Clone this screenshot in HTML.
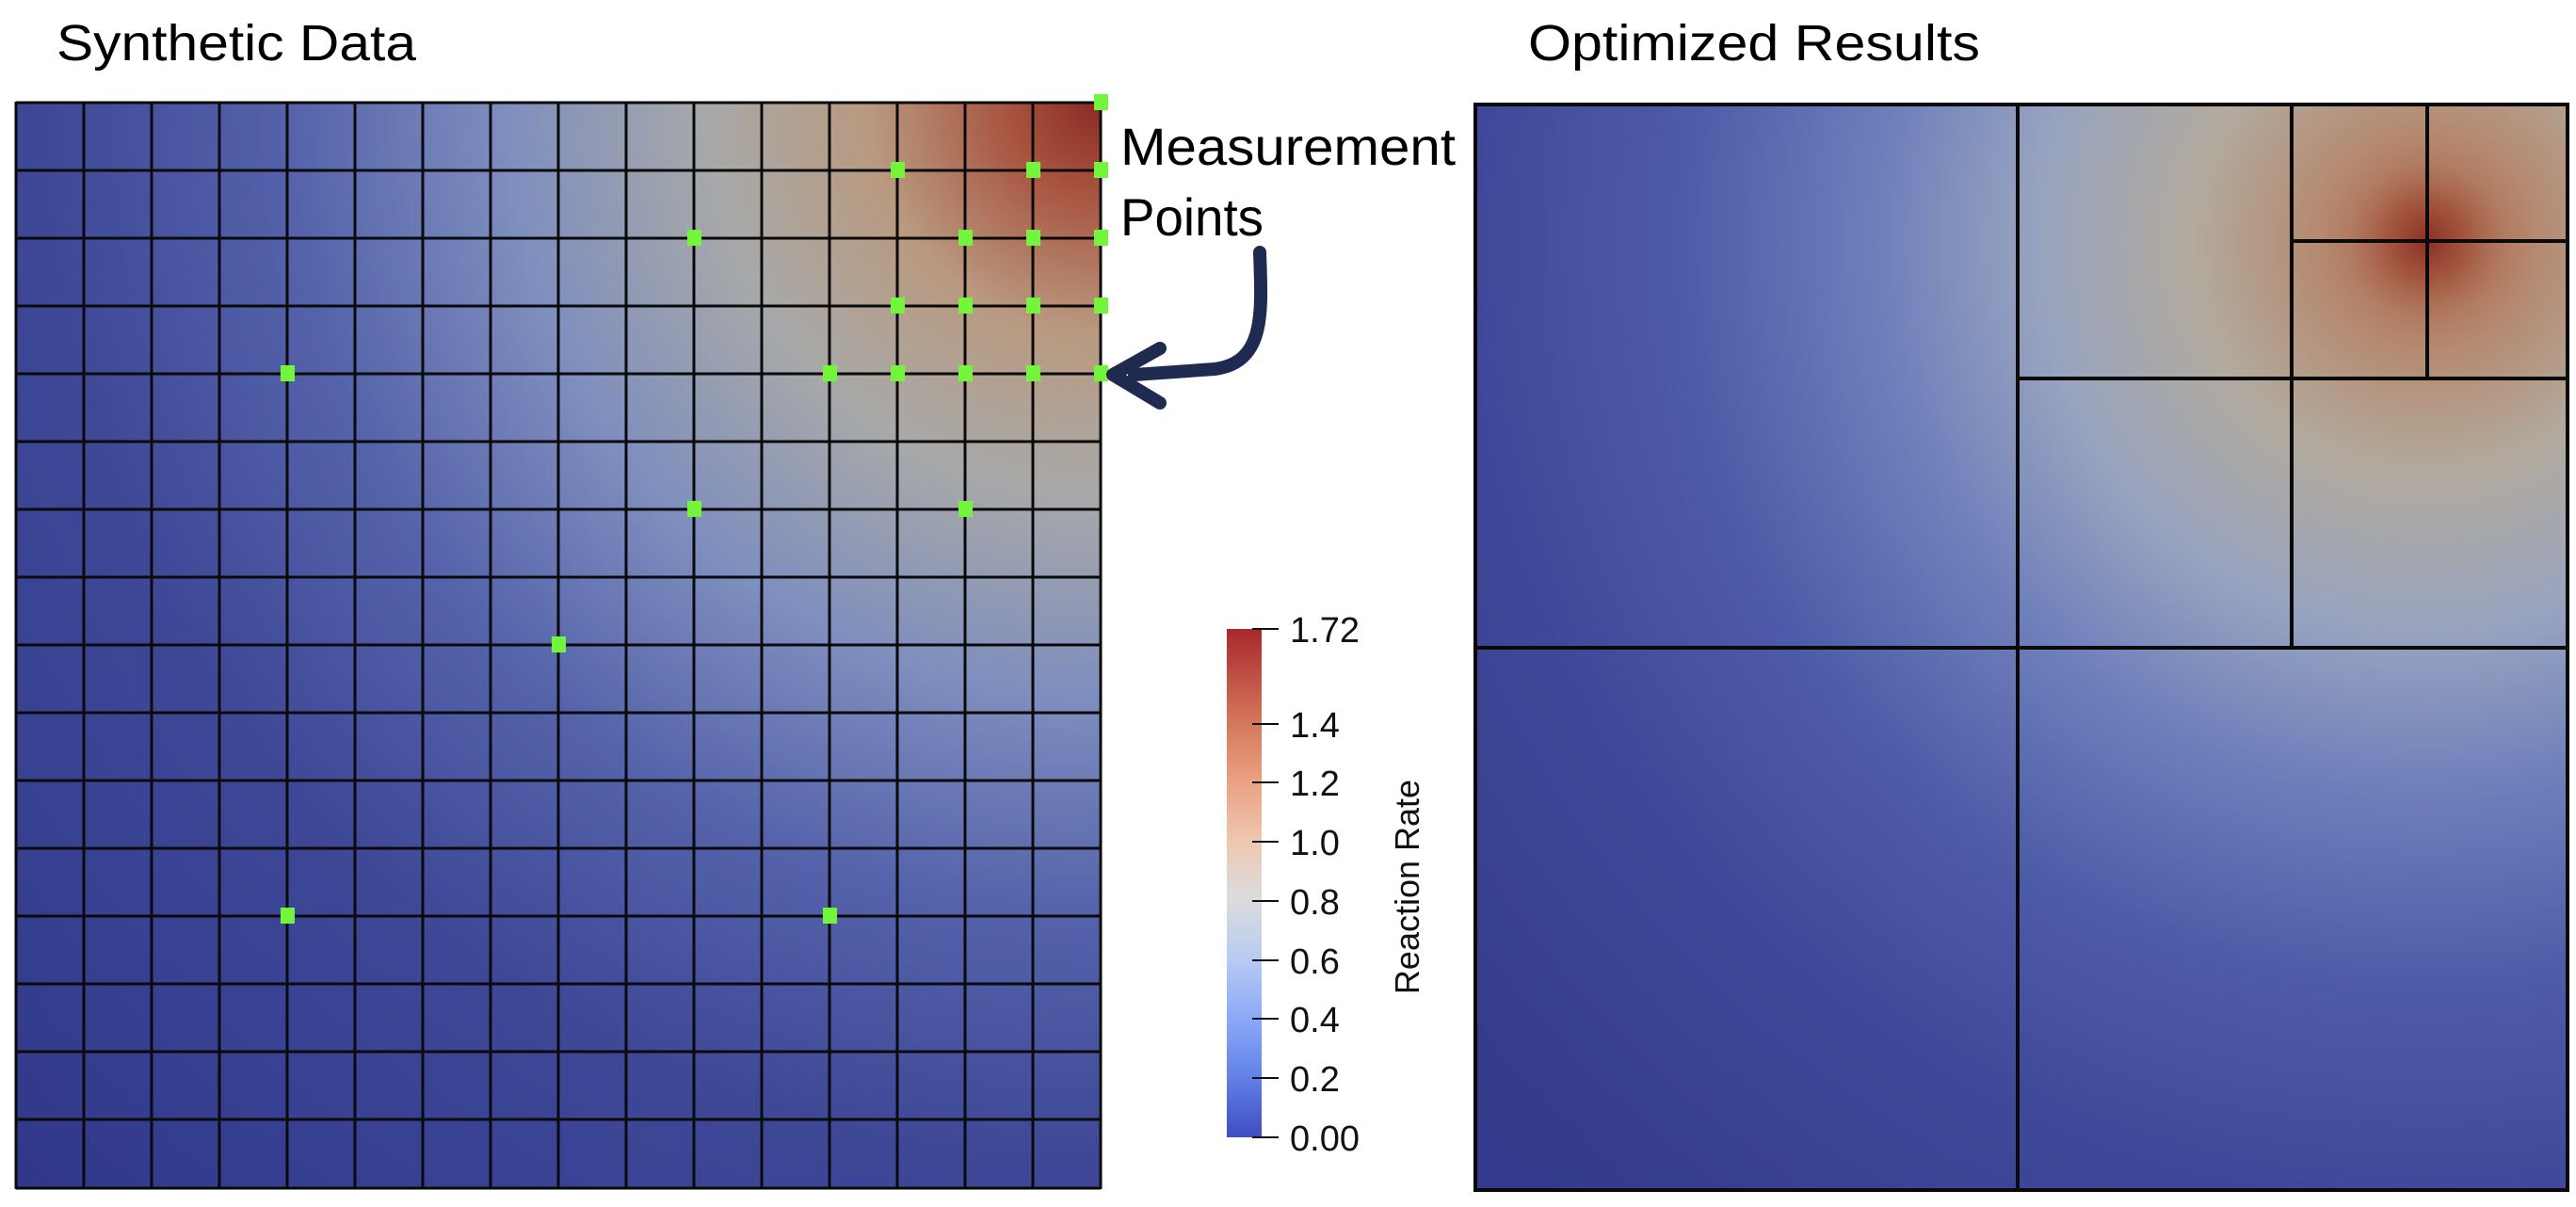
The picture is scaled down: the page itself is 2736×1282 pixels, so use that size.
<!DOCTYPE html>
<html><head><meta charset="utf-8"><style>
html,body{margin:0;padding:0;background:#fff;}
svg{display:block;}
text{font-family:"Liberation Sans",sans-serif;}
</style></head><body>
<svg width="2736" height="1282" viewBox="0 0 2736 1282" xmlns="http://www.w3.org/2000/svg">
<defs>
<radialGradient id="gl" gradientUnits="userSpaceOnUse" cx="1169" cy="108" r="1650">
<stop offset="0" stop-color="#8a2a24"/>
<stop offset="0.06" stop-color="#a85440"/>
<stop offset="0.15" stop-color="#b99a80"/>
<stop offset="0.25" stop-color="#a8a9a8"/>
<stop offset="0.38" stop-color="#7f8fbe"/>
<stop offset="0.52" stop-color="#5563ab"/>
<stop offset="0.68" stop-color="#3e4897"/>
<stop offset="1" stop-color="#30378a"/>
</radialGradient>
<radialGradient id="gr" gradientUnits="userSpaceOnUse" cx="2578" cy="256" r="1650">
<stop offset="0" stop-color="#a5583f"/>
<stop offset="0.07" stop-color="#b58a70"/>
<stop offset="0.15" stop-color="#b2aa9e"/>
<stop offset="0.25" stop-color="#98a4bf"/>
<stop offset="0.35" stop-color="#7080bb"/>
<stop offset="0.48" stop-color="#4e5ba8"/>
<stop offset="0.62" stop-color="#3f4898"/>
<stop offset="0.8" stop-color="#353c8c"/>
<stop offset="1" stop-color="#30378a"/>
</radialGradient>
<radialGradient id="spot" gradientUnits="userSpaceOnUse" cx="2578" cy="256" r="85">
<stop offset="0" stop-color="#8a2e24" stop-opacity="0.95"/>
<stop offset="0.5" stop-color="#9c4632" stop-opacity="0.55"/>
<stop offset="1" stop-color="#b06a50" stop-opacity="0"/>
</radialGradient>
<linearGradient id="cb" x1="0" y1="1" x2="0" y2="0">
<stop offset="0" stop-color="#3f4cc2"/>
<stop offset="0.12" stop-color="#6282e8"/>
<stop offset="0.23" stop-color="#8aa8f8"/>
<stop offset="0.35" stop-color="#b8cbf3"/>
<stop offset="0.47" stop-color="#dcdcdc"/>
<stop offset="0.58" stop-color="#eec8b2"/>
<stop offset="0.7" stop-color="#e9a282"/>
<stop offset="0.82" stop-color="#d3765a"/>
<stop offset="1" stop-color="#a8282c"/>
</linearGradient>
</defs>

<text x="60" y="64" font-size="54" textLength="382" lengthAdjust="spacingAndGlyphs">Synthetic Data</text>
<text x="1623" y="64" font-size="54" textLength="480" lengthAdjust="spacingAndGlyphs">Optimized Results</text>

<!-- left panel -->
<rect x="17" y="108" width="1152" height="1155" fill="url(#gl)"/>
<g stroke="#0a0a0a" stroke-width="3">
<path d="M17 108V1263M89 108V1263M161 108V1263M233 108V1263M305 108V1263M377 108V1263M449 108V1263M521 108V1263M593 108V1263M665 108V1263M737 108V1263M809 108V1263M881 108V1263M953 108V1263M1025 108V1263M1097 108V1263M1169 108V1263"/>
<path d="M17 109H1169M17 181H1169M17 253H1169M17 325H1169M17 397H1169M17 469H1169M17 541H1169M17 613H1169M17 685H1169M17 757H1169M17 829H1169M17 901H1169M17 973H1169M17 1045H1169M17 1117H1169M17 1189H1169M17 1262H1169"/>
</g>
<g fill="#72f53a">
<rect x="1162" y="100" width="15" height="17"/>
<rect x="946" y="172" width="15" height="17"/><rect x="1090" y="172" width="15" height="17"/><rect x="1162" y="172" width="15" height="17"/>
<rect x="730" y="244" width="15" height="17"/><rect x="1018" y="244" width="15" height="17"/><rect x="1090" y="244" width="15" height="17"/><rect x="1162" y="244" width="15" height="17"/>
<rect x="946" y="316" width="15" height="17"/><rect x="1018" y="316" width="15" height="17"/><rect x="1090" y="316" width="15" height="17"/><rect x="1162" y="316" width="15" height="17"/>
<rect x="298" y="388" width="15" height="17"/><rect x="874" y="388" width="15" height="17"/><rect x="946" y="388" width="15" height="17"/><rect x="1018" y="388" width="15" height="17"/><rect x="1090" y="388" width="15" height="17"/><rect x="1162" y="388" width="15" height="17"/>
<rect x="730" y="532" width="15" height="17"/><rect x="1018" y="532" width="15" height="17"/>
<rect x="586" y="676" width="15" height="17"/>
<rect x="298" y="964" width="15" height="17"/><rect x="874" y="964" width="15" height="17"/>
</g>

<text x="1190" y="175" font-size="56" textLength="356" lengthAdjust="spacingAndGlyphs">Measurement</text>
<text x="1190" y="250" font-size="56" textLength="152" lengthAdjust="spacingAndGlyphs">Points</text>
<path d="M1338 268 C1340 330 1345 385 1290 392 L1205 398" fill="none" stroke="#1e2a4f" stroke-width="14" stroke-linecap="round"/>
<path d="M1232 370 L1182 398 L1232 428" fill="none" stroke="#1e2a4f" stroke-width="14" stroke-linecap="round" stroke-linejoin="round"/>

<!-- colorbar -->
<rect x="1303" y="668" width="37" height="540" fill="url(#cb)"/>
<g stroke="#111" stroke-width="2">
<path d="M1330 668H1358M1330 1208H1358M1330 1145H1358M1330 1082H1358M1330 1020H1358M1330 957H1358M1330 894H1358M1330 831H1358M1330 769H1358"/>
</g>
<g font-size="38" fill="#111">
<text x="1370" y="682">1.72</text>
<text x="1370" y="783">1.4</text>
<text x="1370" y="845">1.2</text>
<text x="1370" y="908">1.0</text>
<text x="1370" y="971">0.8</text>
<text x="1370" y="1034">0.6</text>
<text x="1370" y="1096">0.4</text>
<text x="1370" y="1159">0.2</text>
<text x="1370" y="1222">0.00</text>
</g>
<text transform="translate(1507 942) rotate(-90)" font-size="36" fill="#111" text-anchor="middle">Reaction Rate</text>

<!-- right panel -->
<rect x="1567" y="111" width="1160" height="1153" fill="url(#gr)"/>
<rect x="2434" y="111" width="293" height="291" fill="url(#spot)"/>
<g fill="none" stroke="#0a0a0a" stroke-width="4">
<rect x="1567" y="111" width="1160" height="1153"/>
<path d="M2143 111V1264M1567 688H2727M2434 111V688M2143 402H2727M2578 111V402M2434 256H2727"/>
</g>
</svg>
</body></html>
